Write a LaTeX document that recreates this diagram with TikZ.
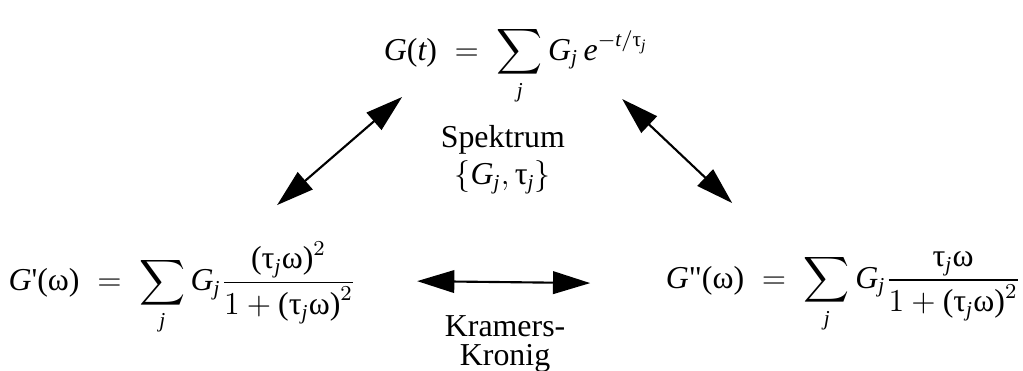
\documentclass[tikz,border=0pt]{standalone}
\usepackage{amsmath}
\usepackage{fontspec}
\setmainfont{Liberation Serif}
\newfontfamily\strich{Liberation Serif}[Ligatures=TeXOff]
\usepackage{tikz}
\usetikzlibrary{arrows.meta}
\usetikzlibrary{calc}

\newcommand{\mi}[1]{\text{\itshape #1}}
\newcommand{\tj}{\text{τ}_{\mi{j}}}
\newcommand{\om}{\text{ω}}

\tikzset{
  formel/.style={inner sep=0pt, anchor=base west},
  pfeil/.style={line width=0.8pt, {Triangle[length=14pt,width=8.5pt]}-{Triangle[length=14pt,width=8.5pt]}},
}

\begin{document}
\begin{tikzpicture}[font=\fontsize{12}{14}\selectfont]

\useasboundingbox (0,0) rectangle (13.53,4.895);

\node[formel] (gt) at (5.07,4.10)
  {$\mi{G}\text{(}\mi{t}\text{)} \;=\; \displaystyle\sum_{\mi{j}} \mi{G}_{\mi{j}}\,\mi{e}^{-\mi{t}/\tj}$};

\node[formel] (gp) at (0.106,1.05)
  {$\mi{G}\text{{\strich '}(}\om\text{)} \;=\; \displaystyle\sum_{\mi{j}} \mi{G}_{\mi{j}}\frac{\text{(}\tj\om\text{)}^2}{1+\text{(}\tj\om\text{)}^2}$};

\node[formel] (gpp) at (8.80,1.085)
  {$\mi{G}\text{{\strich "}(}\om\text{)} \;=\; \displaystyle\sum_{\mi{j}} \mi{G}_{\mi{j}}\frac{\tj\om}{1+\text{(}\tj\om\text{)}^2}$};

\node[align=center] (spek) at (6.65,2.78) {Spektrum\\$\{\mi{G}_{\mi{j}},\tj\}$};

\node[align=center] (kk) at (6.68,0.35) {Kramers-\\[-3pt]Kronig};

% Pfeile
\coordinate (l1) at (3.665,2.183);
\coordinate (l2) at (5.318,3.612);
\coordinate (r1) at (8.229,3.585);
\coordinate (r2) at (9.684,2.209);
\coordinate (h1) at (5.517,1.177);
\coordinate (h2) at (7.806,1.151);

\draw[pfeil] (l1) -- (l2);
\draw[pfeil] (r1) -- (r2);
\draw[pfeil] (h1) -- (h2);

\end{tikzpicture}
\end{document}
